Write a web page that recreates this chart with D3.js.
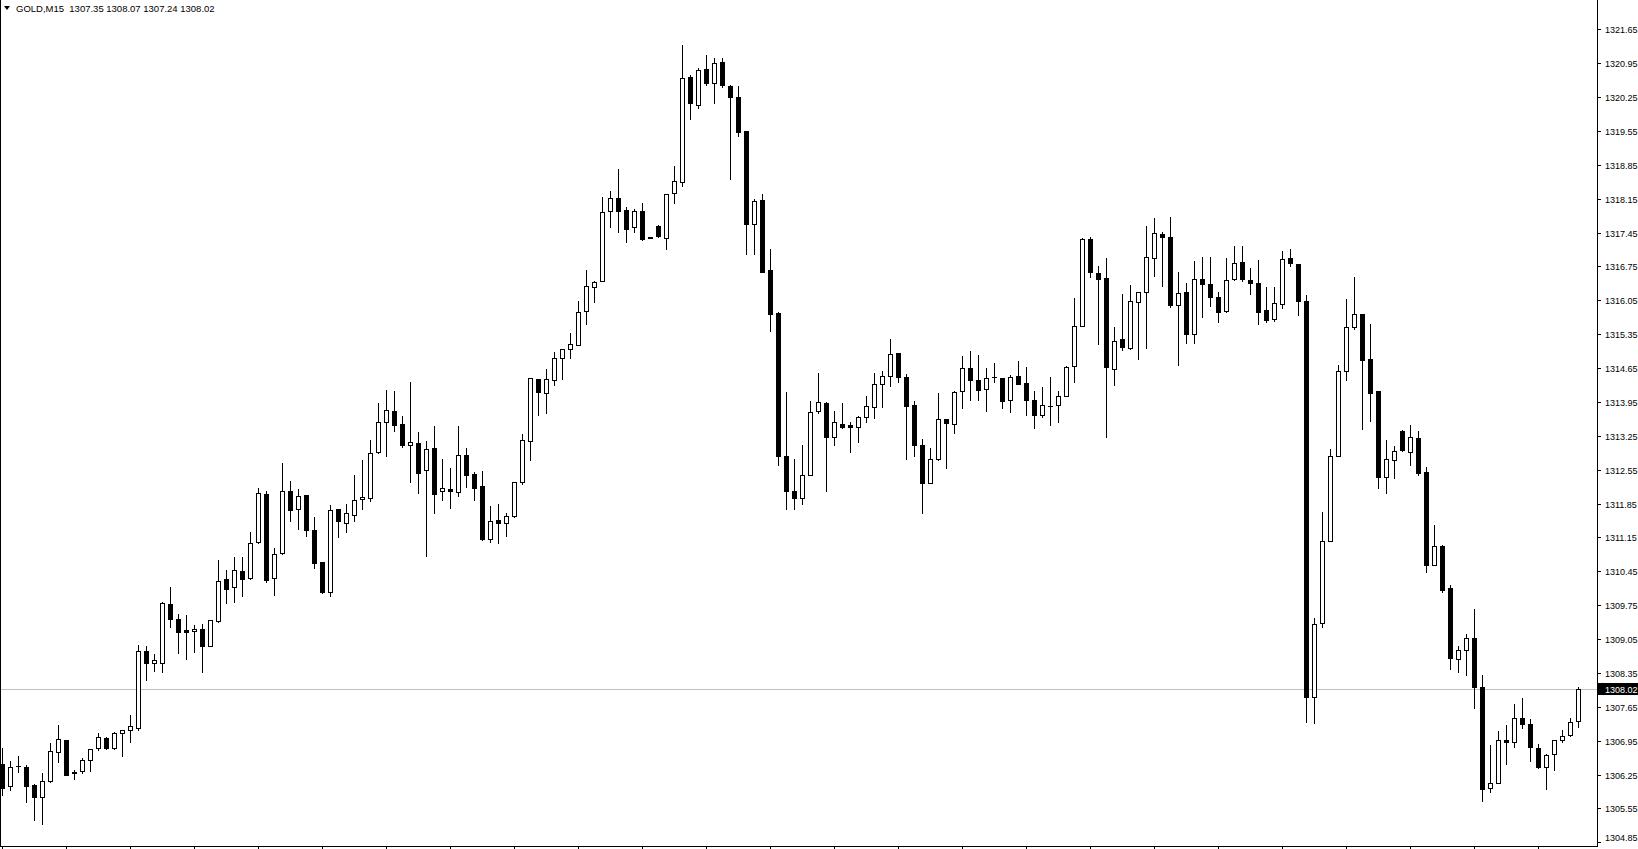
<!DOCTYPE html>
<html><head><meta charset="utf-8">
<script src="https://cdn.jsdelivr.net/npm/d3@7"></script>
<style>
html,body{margin:0;padding:0;background:#fff;overflow:hidden}
svg{display:block}
text{font-family:"Liberation Sans",Arial,sans-serif;white-space:pre}
</style></head>
<body>
<svg id="chart" width="1638" height="849"></svg>
<script>
const symbolLabel = "GOLD,M15";
const openP = [1306.47,1306.01,1306.42,1306.40,1306.03,1305.78,1306.11,1306.71,1306.96,1306.31,
1306.32,1306.55,1306.79,1307.00,1306.79,1307.12,1307.18,1307.22,1308.80,1308.55,
1308.55,1309.77,1309.46,1309.23,1309.21,1309.25,1308.90,1309.42,1310.29,1310.12,
1310.46,1310.31,1311.05,1312.04,1310.31,1310.82,1312.10,1311.73,1312.02,1311.30,
1310.64,1310.02,1311.73,1311.45,1311.62,1311.94,1311.96,1312.91,1313.54,1313.76,
1313.49,1313.05,1313.10,1312.54,1312.99,1312.10,1312.15,1312.08,1312.85,1312.47,
1312.21,1311.11,1311.52,1311.44,1311.60,1312.29,1313.15,1314.42,1314.13,1314.40,
1314.85,1315.04,1315.12,1315.82,1316.32,1316.44,1317.89,1318.16,1317.91,1317.56,
1317.89,1317.35,1317.59,1317.33,1318.26,1318.49,1320.66,1320.09,1320.82,1320.53,
1320.97,1320.47,1320.26,1319.54,1317.63,1318.12,1316.67,1315.78,1312.84,1312.10,
1311.96,1312.45,1313.76,1313.93,1313.23,1313.49,1313.47,1313.44,1313.63,1313.84,
1314.32,1314.48,1314.97,1314.46,1313.89,1313.07,1312.28,1312.78,1313.59,1313.49,
1314.17,1314.65,1314.40,1314.21,1314.47,1314.44,1314.00,1314.48,1314.35,1314.00,
1313.69,1313.87,1313.88,1314.07,1314.69,1315.51,1317.31,1316.61,1316.52,1314.64,
1315.24,1315.06,1316.01,1316.23,1316.92,1317.41,1317.35,1315.95,1316.23,1315.35,
1316.48,1316.38,1316.11,1315.83,1316.48,1316.85,1316.46,1316.40,1315.84,1315.67,
1315.98,1316.92,1316.81,1316.04,1307.86,1309.38,1311.07,1312.83,1314.58,1315.49,
1315.76,1314.83,1314.18,1312.39,1312.74,1313.34,1312.91,1313.20,1312.51,1310.59,
1310.97,1310.10,1308.63,1308.82,1309.07,1308.07,1305.97,1306.07,1306.97,1306.92,
1307.41,1307.29,1306.81,1306.41,1306.67,1306.96,1307.06,1307.35];
const highP = [1306.79,1306.53,1306.64,1306.45,1306.05,1306.29,1306.90,1307.28,1306.97,1306.35,
1306.59,1306.78,1307.11,1307.03,1307.13,1307.17,1307.48,1308.92,1308.90,1308.75,
1309.81,1310.13,1309.57,1309.55,1309.34,1309.36,1309.44,1310.68,1310.48,1310.75,
1310.75,1311.26,1312.17,1312.12,1310.93,1312.68,1312.32,1312.15,1312.02,1311.57,
1310.64,1311.82,1311.73,1311.85,1312.44,1312.75,1313.16,1313.93,1314.20,1314.18,
1313.66,1314.36,1313.33,1313.14,1313.45,1312.77,1312.58,1313.45,1312.99,1312.50,
1312.53,1311.80,1311.84,1311.65,1312.29,1313.29,1314.44,1314.42,1314.64,1314.99,
1315.04,1315.37,1316.03,1316.67,1316.44,1318.18,1318.30,1318.76,1317.97,1317.93,
1318.05,1317.36,1317.60,1318.24,1318.82,1321.32,1320.71,1320.85,1321.11,1321.05,
1321.05,1320.49,1320.47,1319.54,1318.14,1318.25,1317.11,1315.80,1314.15,1312.78,
1313.05,1313.97,1314.55,1313.95,1313.76,1313.93,1313.53,1313.65,1314.07,1314.55,
1314.58,1315.25,1314.97,1314.52,1313.97,1313.18,1312.99,1314.14,1313.59,1314.18,
1314.90,1315.00,1314.92,1314.65,1314.75,1314.44,1314.50,1314.80,1314.67,1314.17,
1314.25,1314.47,1314.17,1314.69,1316.09,1317.33,1317.35,1316.75,1316.92,1315.49,
1316.18,1316.37,1316.23,1317.58,1317.75,1317.47,1317.77,1316.63,1316.40,1316.86,
1316.94,1316.94,1316.23,1316.92,1317.18,1317.18,1316.72,1316.88,1316.32,1316.32,
1317.06,1317.10,1316.81,1316.16,1309.48,1311.68,1312.97,1314.71,1316.08,1316.53,
1315.76,1315.55,1314.18,1313.16,1313.03,1313.36,1313.47,1313.34,1312.61,1311.40,
1310.99,1310.17,1308.91,1309.16,1309.67,1308.30,1306.86,1307.15,1307.28,1307.71,
1307.83,1307.39,1306.88,1306.67,1306.96,1307.17,1307.41,1308.07];
const lowP = [1305.83,1305.94,1306.31,1305.69,1305.32,1305.22,1306.10,1306.52,1306.24,1306.15,
1306.28,1306.33,1306.76,1306.77,1306.78,1306.64,1306.93,1307.18,1308.20,1308.40,
1308.36,1309.31,1308.77,1308.64,1308.79,1308.36,1308.90,1309.41,1309.80,1309.82,
1309.95,1310.30,1311.04,1310.22,1309.97,1310.81,1311.50,1311.32,1311.17,1310.51,
1310.00,1309.95,1311.15,1311.27,1311.48,1311.73,1311.91,1312.90,1312.84,1313.34,
1313.01,1312.30,1312.07,1310.77,1311.66,1311.93,1311.76,1312.01,1312.20,1311.93,
1311.10,1311.06,1311.04,1311.19,1311.58,1312.25,1312.76,1313.69,1313.73,1314.31,
1314.42,1314.86,1315.12,1315.55,1316.02,1316.44,1317.57,1317.47,1317.25,1317.47,
1317.30,1317.33,1317.36,1317.12,1318.05,1318.42,1319.80,1320.02,1320.49,1320.13,
1320.45,1318.56,1319.45,1317.01,1317.01,1316.63,1315.42,1312.65,1311.74,1311.74,
1311.85,1312.44,1313.73,1312.12,1313.05,1313.42,1312.92,1313.13,1313.53,1313.61,
1313.85,1314.27,1314.37,1312.78,1312.84,1311.65,1312.28,1312.76,1312.59,1313.30,
1313.83,1313.98,1314.00,1313.77,1314.36,1313.83,1313.75,1314.33,1313.69,1313.42,
1313.63,1313.48,1313.54,1314.07,1314.37,1315.51,1316.54,1315.15,1313.22,1314.31,
1315.02,1315.04,1314.84,1315.07,1316.56,1316.35,1315.92,1314.72,1315.16,1315.16,
1315.71,1315.94,1315.61,1315.81,1316.46,1316.44,1316.17,1315.55,1315.61,1315.63,
1315.90,1316.75,1315.75,1307.34,1307.32,1309.29,1311.07,1312.83,1314.41,1315.45,
1313.40,1313.56,1312.18,1312.06,1312.37,1312.93,1312.65,1312.43,1310.44,1310.59,
1310.03,1308.43,1308.38,1308.30,1307.63,1305.71,1305.90,1306.07,1306.46,1306.83,
1307.21,1306.54,1306.39,1305.95,1306.35,1306.92,1307.04,1307.24];
const closeP = [1305.98,1306.40,1306.43,1306.02,1305.78,1306.12,1306.73,1306.98,1306.25,1306.28,
1306.55,1306.77,1307.02,1306.79,1307.10,1307.17,1307.25,1308.80,1308.55,1308.62,
1309.79,1309.46,1309.20,1309.20,1309.25,1308.91,1309.44,1310.25,1310.09,1310.48,
1310.30,1311.03,1312.06,1310.28,1310.81,1312.10,1311.71,1312.00,1311.30,1310.63,
1310.03,1311.71,1311.48,1311.65,1311.92,1311.98,1312.89,1313.53,1313.78,1313.48,
1313.05,1313.12,1312.49,1312.97,1312.05,1312.17,1312.10,1312.85,1312.45,1312.18,
1311.11,1311.50,1311.44,1311.59,1312.29,1313.16,1314.44,1314.15,1314.42,1314.85,
1315.04,1315.14,1315.80,1316.34,1316.42,1317.87,1318.16,1317.89,1317.53,1317.89,
1317.32,1317.34,1317.37,1318.24,1318.52,1320.64,1320.13,1320.80,1320.53,1320.95,
1320.49,1320.24,1319.53,1317.63,1318.10,1316.64,1315.76,1312.84,1312.10,1311.97,
1312.45,1313.74,1313.95,1313.23,1313.53,1313.44,1313.44,1313.63,1313.86,1314.32,
1314.48,1314.95,1314.46,1313.87,1313.07,1312.28,1312.78,1313.59,1313.51,1314.16,
1314.66,1314.40,1314.19,1314.44,1314.46,1313.96,1314.46,1314.33,1313.98,1313.67,
1313.88,1313.87,1314.07,1314.67,1315.51,1317.31,1316.63,1316.50,1314.67,1315.20,
1315.08,1316.03,1316.23,1316.94,1317.43,1317.35,1315.96,1316.21,1315.35,1316.48,
1316.38,1316.11,1315.81,1316.46,1316.83,1316.48,1316.41,1315.81,1315.65,1315.99,
1316.90,1316.83,1316.04,1307.86,1309.36,1311.07,1312.83,1314.58,1315.49,1315.76,
1314.81,1314.14,1312.39,1312.77,1312.93,1312.95,1313.22,1312.49,1310.59,1310.97,
1310.07,1308.65,1308.82,1309.07,1308.05,1305.95,1306.07,1306.96,1306.92,1307.41,
1307.29,1306.83,1306.41,1306.65,1306.96,1307.04,1307.33,1308.02];
const priceTicks = ["1321.65","1320.95","1320.25","1319.55","1318.85","1318.15","1317.45","1316.75",
"1316.05","1315.35","1314.65","1313.95","1313.25","1312.55","1311.85","1311.15","1310.45","1309.75",
"1309.05","1308.35","1307.65","1306.95","1306.25","1305.55","1304.85"];

const W = 1638, H = 849;
const plotRight = 1597, plotBottom = 846;
const n = closeP.length;
const svg = d3.select("#chart");

const x = d3.scaleLinear().domain([0, n - 1]).range([2.5, 2.5 + 8 * (n - 1)]);
const y = d3.scaleLinear().domain([1304.85, 1321.65]).range([842.37, 29.25]);

svg.append("rect").attr("x", 0).attr("y", 0).attr("width", W).attr("height", H).attr("fill", "#fff");

// current price line
const last = closeP[n - 1];
const lastY = Math.round(y(last)) + 0.5;
svg.append("line").attr("x1", 0).attr("x2", plotRight).attr("y1", lastY).attr("y2", lastY)
  .attr("stroke", "#c0c0c0").attr("stroke-width", 1).attr("shape-rendering", "crispEdges");

// candles
const g = svg.append("g").attr("shape-rendering", "crispEdges");
for (let i = 0; i < n; i++) {
  const cx = x(i);
  const o = openP[i], c = closeP[i], h = highP[i], l = lowP[i];
  const yh = Math.round(y(h)), yl = Math.round(y(l));
  g.append("line").attr("x1", cx).attr("x2", cx).attr("y1", yh).attr("y2", yl + 1)
    .attr("stroke", "#000").attr("stroke-width", 1);
  const top = Math.round(y(Math.max(o, c))), bot = Math.round(y(Math.min(o, c)));
  if (bot - top < 1) {
    g.append("line").attr("x1", cx - 2.5).attr("x2", cx + 2.5).attr("y1", top + 0.5).attr("y2", top + 0.5)
      .attr("stroke", "#000").attr("stroke-width", 1);
  } else {
    g.append("rect").attr("x", cx - 2).attr("y", top + 0.5).attr("width", 4).attr("height", bot - top)
      .attr("fill", c >= o ? "#fff" : "#000").attr("stroke", "#000").attr("stroke-width", 1);
  }
}

// axes frame
const axG = svg.append("g").attr("shape-rendering", "crispEdges");
axG.append("line").attr("x1", plotRight + 0.5).attr("x2", plotRight + 0.5).attr("y1", 0).attr("y2", plotBottom + 1)
  .attr("stroke", "#000");
axG.append("line").attr("x1", 0).attr("x2", plotRight + 1).attr("y1", plotBottom + 0.5).attr("y2", plotBottom + 0.5)
  .attr("stroke", "#000");
axG.append("line").attr("x1", 0.5).attr("x2", 0.5).attr("y1", 0).attr("y2", plotBottom)
  .attr("stroke", "#000");

// price ticks and labels
priceTicks.forEach(t => {
  const v = +t;
  const ty = Math.round(y(v)) + 0.5;
  axG.append("line").attr("x1", plotRight).attr("x2", plotRight + 4).attr("y1", ty).attr("y2", ty).attr("stroke", "#000");
  svg.append("text").attr("x", 1605).attr("y", Math.min(ty, 838)).attr("dy", "0.35em")
    .attr("font-size", "9px").attr("fill", "#000").text(t);
});

// time ticks
for (let i = 0; i < n; i += 8) {
  const tx = x(i);
  axG.append("line").attr("x1", tx).attr("x2", tx).attr("y1", plotBottom).attr("y2", H).attr("stroke", "#000");
}

// current price label
svg.append("rect").attr("x", plotRight + 1).attr("y", lastY - 6.5).attr("width", W - plotRight - 1).attr("height", 12).attr("fill", "#000");
svg.append("text").attr("x", 1605).attr("y", lastY).attr("dy", "0.35em").attr("font-size", "9px").attr("fill", "#fff")
  .text(d3.format(".2f")(last));

// header
svg.append("path").attr("d", "M4,6 L10,6 L7,10 Z").attr("fill", "#000");
svg.append("text").attr("x", 16).attr("y", 8.5).attr("dy", "0.35em").attr("font-size", "9.5px").attr("fill", "#000")
  .attr("xml:space", "preserve")
  .text(symbolLabel + "  " + [openP[n-1], highP[n-1], lowP[n-1], closeP[n-1]].map(d3.format(".2f")).join(" "));
</script>
</body></html>
